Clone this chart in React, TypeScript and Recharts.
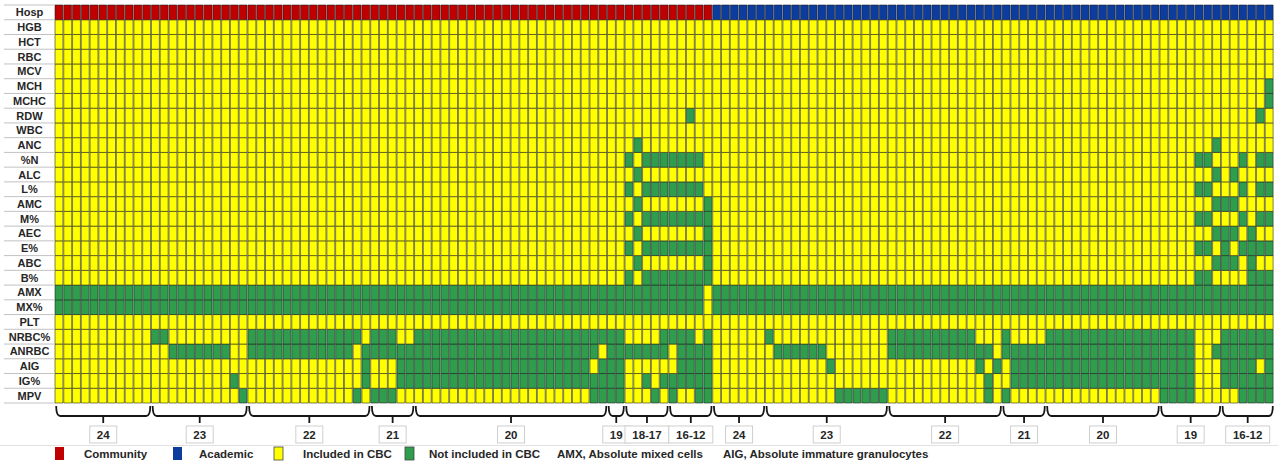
import React from 'react';
import { BarChart, Bar, XAxis, YAxis, Cell, ReferenceArea } from 'recharts';

// ---------- data ----------
const rowLabels = ['Hosp', 'HGB', 'HCT', 'RBC', 'MCV', 'MCH', 'MCHC', 'RDW', 'WBC', 'ANC', '%N', 'ALC', 'L%', 'AMC', 'M%', 'AEC', 'E%', 'ABC', 'B%', 'AMX', 'MX%', 'PLT', 'NRBC%', 'ANRBC', 'AIG', 'IG%', 'MPV'];

// instrument groups (columns), left to right
const groupLabels = ['24', '23', '22', '21', '20', '19', '18-17', '16-12', '24', '23', '22', '21', '20', '19', '16-12'];
const groupSizes = [11, 11, 14, 5, 22, 2, 5, 5, 6, 14, 13, 5, 13, 7, 6];
const groupHospitals = ['Community', 'Community', 'Community', 'Community', 'Community', 'Community', 'Community', 'Community', 'Academic', 'Academic', 'Academic', 'Academic', 'Academic', 'Academic', 'Academic'];

// column ranges (inclusive) where the parameter is NOT included in the CBC
type Ranges = number[][];
const niHGB: Ranges = [];
const niHCT: Ranges = [];
const niRBC: Ranges = [];
const niMCV: Ranges = [];
const niMCH: Ranges = [[138, 138]];
const niMCHC: Ranges = [[138, 138]];
const niRDW: Ranges = [[72, 72], [137, 137]];
const niWBC: Ranges = [];
const niANC: Ranges = [[66, 66], [132, 132]];
const niNpct: Ranges = [[65, 65], [67, 73], [130, 131], [135, 135], [137, 138]];
const niALC: Ranges = [[66, 66], [132, 132], [134, 134]];
const niLpct: Ranges = [[65, 65], [67, 73], [130, 131], [135, 135], [137, 138]];
const niAMC: Ranges = [[66, 66], [74, 74], [132, 134]];
const niMpct: Ranges = [[65, 65], [67, 74], [130, 131], [135, 135], [137, 138]];
const niAEC: Ranges = [[66, 66], [74, 74], [132, 134], [136, 136]];
const niEpct: Ranges = [[65, 65], [67, 74], [130, 131], [133, 133], [135, 138]];
const niABC: Ranges = [[66, 66], [74, 74], [132, 134], [136, 136]];
const niBpct: Ranges = [[65, 65], [67, 74], [130, 131], [136, 138]];
const niAMX: Ranges = [[0, 73], [75, 138]];
const niMXpct: Ranges = [[0, 73], [75, 138]];
const niPLT: Ranges = [];
const niNRBCpct: Ranges = [[11, 12], [22, 34], [36, 38], [41, 64], [69, 72], [74, 74], [81, 81], [95, 104], [108, 108], [113, 129], [133, 138]];
const niANRBC: Ranges = [[13, 19], [22, 33], [35, 61], [63, 69], [71, 74], [82, 87], [95, 106], [108, 129], [132, 138]];
const niAIG: Ranges = [[35, 35], [39, 60], [62, 64], [71, 74], [88, 88], [105, 105], [107, 107], [109, 129], [133, 136], [138, 138]];
const niIGpct: Ranges = [[20, 20], [35, 35], [39, 64], [67, 67], [69, 74], [106, 106], [109, 129], [133, 138]];
const niMPV: Ranges = [[21, 21], [34, 34], [36, 38], [61, 64], [68, 68], [70, 70], [73, 74], [89, 94], [106, 106], [108, 108], [126, 129], [135, 138]];

const rowNotIncluded: Ranges[] = [[], niHGB, niHCT, niRBC, niMCV, niMCH, niMCHC, niRDW, niWBC, niANC, niNpct, niALC, niLpct, niAMC, niMpct, niAEC, niEpct, niABC, niBpct, niAMX, niMXpct, niPLT, niNRBCpct, niANRBC, niAIG, niIGpct, niMPV];

const legendLabels = ['Community', 'Academic', 'Included in CBC', 'Not included in CBC'];
const legendNotes = ['AMX, Absolute mixed cells', 'AIG, Absolute immature granulocytes'];

// ---------- derived ----------
const columnGroup: number[] = groupSizes.flatMap((n, g) => Array.from({ length: n }, () => g));
const groupStart: number[] = groupSizes.map((_, g) => groupSizes.slice(0, g).reduce((a, b) => a + b, 0));

const data = columnGroup.map((g, i) => {
  const o: Record<string, any> = { col: i, hosp: groupHospitals[g] };
  rowLabels.forEach((_, r) => { o['r' + r] = 1; });
  return o;
});

// ---------- style ----------
const W = 1278;
const H = 465;
const MARGIN = { top: 5, right: 4, bottom: 62, left: 0 };
const YW = 55;
const PLOT_W = W - MARGIN.left - MARGIN.right - YW;
const PLOT_H = H - MARGIN.top - MARGIN.bottom;
const COLW = PLOT_W / data.length;
const ROWH = PLOT_H / rowLabels.length;
const FONT = '"Liberation Sans", Arial, Helvetica, sans-serif';
const YELLOW = '#FFFF00';
const GREEN = '#2E9E4C';
const HOSP_COLORS: Record<string, string> = { Community: '#C00000', Academic: '#0B3C9E' };
const TEXT = '#262626';

function cellColor(r: number, i: number): string {
  if (r === 0) return HOSP_COLORS[data[i].hosp];
  const miss = rowNotIncluded[r].some(([a, b]) => i >= a && i <= b);
  return miss ? GREEN : YELLOW;
}

function RowTick(props: any) {
  const { y, payload } = props;
  const r = rowLabels.length - 1 - Math.floor(payload.value);
  return (
    <g>
      {r === 0 && <line x1={4} x2={YW} y1={y - ROWH / 2} y2={y - ROWH / 2} stroke="#c2c2c2" />}
      <line x1={4} x2={YW} y1={y + ROWH / 2} y2={y + ROWH / 2} stroke="#c2c2c2" />
      <text x={29.5} y={y + 4} textAnchor="middle" fontFamily={FONT} fontWeight="bold" fontSize={11} fill={TEXT}>
        {rowLabels[r]}
      </text>
    </g>
  );
}

function makeBrace(label: string) {
  return (p: any) => {
    const { x, y, width, height } = p;
    const x0 = x + 1.2;
    const x1 = x + width - 1.2;
    const mid = x + width / 2;
    const b = y + height;
    const yT = b + 3;
    const yH = b + 13;
    const bw = label.length > 2 ? label.length * 6.8 + 10 : 27;
    return (
      <g>
        <path
          d={`M${x0},${yT} Q${x0},${yH} ${x0 + 4},${yH} L${x1 - 4},${yH} Q${x1},${yH} ${x1},${yT} M${mid},${yH} L${mid},${b + 20}`}
          fill="none"
          stroke="#161616"
          strokeWidth={1.8}
        />
        <rect x={mid - bw / 2} y={b + 23} width={bw} height={17} fill="#fff" stroke="#cfcfcf" />
        <text x={mid} y={b + 35.5} textAnchor="middle" fontFamily={FONT} fontWeight="bold" fontSize={11.5} fill={TEXT}>
          {label}
        </text>
      </g>
    );
  };
}

const legendSwatchX = [55, 173, 274, 405];
const legendTextX = [84, 199, 303, 429];
const legendNoteX = [557, 723];
const legendColors = [HOSP_COLORS.Community, HOSP_COLORS.Academic, YELLOW, GREEN];

export default function App() {
  const nRows = rowLabels.length;
  return (
    <div style={{ position: 'relative', width: W, height: H, background: '#fff' }}>
      <style>{'body{margin:0;}'}</style>
      <BarChart width={W} height={H} data={data} margin={MARGIN} barCategoryGap={0} barGap={0}>
        <XAxis dataKey="col" type="category" hide />
        <YAxis
          type="number"
          domain={[0, nRows]}
          ticks={rowLabels.map((_, i) => i + 0.5)}
          interval={0}
          width={YW}
          axisLine={false}
          tickLine={false}
          tick={(p: any) => <RowTick {...p} />}
        />
        {rowLabels.map((_, k) => {
          const r = nRows - 1 - k;
          return (
            <Bar key={r} dataKey={'r' + r} stackId="s" barSize={COLW} isAnimationActive={false}>
              {data.map((d, i) => (
                <Cell key={i} fill={cellColor(r, i)} stroke="#1c1c1c" strokeOpacity={0.62} strokeWidth={0.9} />
              ))}
            </Bar>
          );
        })}
        {groupLabels.map((lab, g) => (
          <ReferenceArea
            key={g}
            x1={groupStart[g]}
            x2={groupStart[g] + groupSizes[g] - 1}
            ifOverflow="visible"
            shape={makeBrace(lab)}
          />
        ))}
      </BarChart>
      <svg width={W} height={H} style={{ position: 'absolute', left: 0, top: 0, pointerEvents: 'none' }}>
        <line x1={0} x2={W} y1={445.5} y2={445.5} stroke="#e2e2e2" />
        {legendLabels.map((lab, i) => (
          <g key={lab}>
            <rect
              x={legendSwatchX[i]}
              y={447}
              width={9}
              height={13}
              fill={legendColors[i]}
              stroke={i >= 2 ? '#444' : 'none'}
              strokeWidth={0.8}
            />
            <text x={legendTextX[i]} y={457.5} fontFamily={FONT} fontWeight="bold" fontSize={11.5} fill={TEXT}>
              {lab}
            </text>
          </g>
        ))}
        {legendNotes.map((lab, i) => (
          <text key={lab} x={legendNoteX[i]} y={457.5} fontFamily={FONT} fontWeight="bold" fontSize={11.5} fill={TEXT}>
            {lab}
          </text>
        ))}
      </svg>
    </div>
  );
}
